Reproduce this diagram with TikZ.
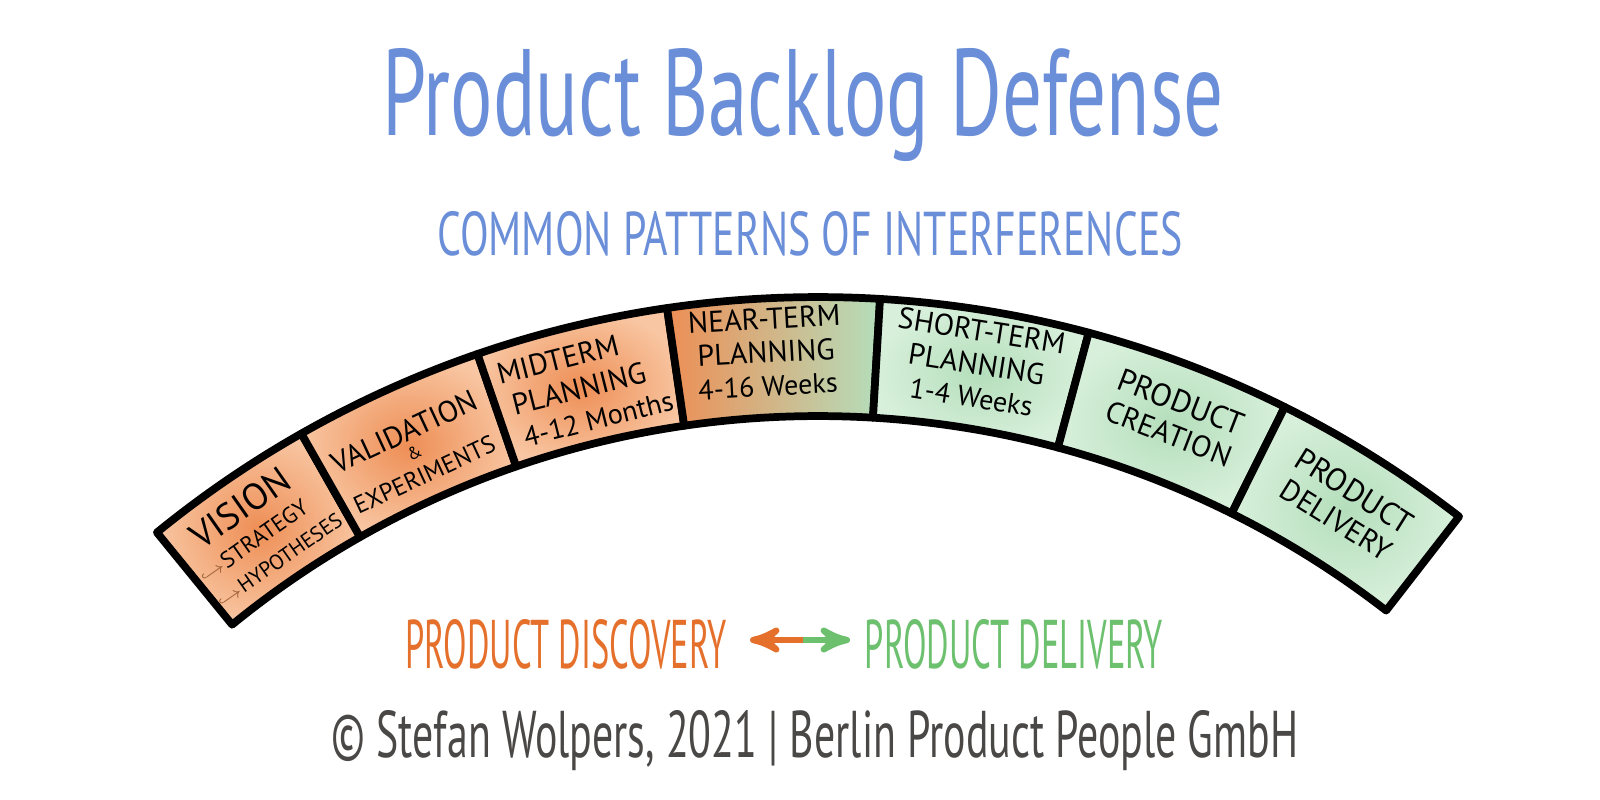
\documentclass[tikz,border=0pt]{standalone}
\usepackage{fontspec}
\setmainfont{PT Sans}
\usetikzlibrary{arrows,positioning}
\definecolor{titleblue}{HTML}{6A8ED8}
\definecolor{discorange}{HTML}{E5702C}
\definecolor{delivgreen}{HTML}{6CC06E}
\definecolor{signgray}{HTML}{4A4846}
\definecolor{orangedeep}{HTML}{EE8E55}
\definecolor{orangepale}{HTML}{F8C6A2}
\definecolor{greendeep}{HTML}{B4DEBB}
\definecolor{greenpale}{HTML}{D8F0DB}
\definecolor{hookbrown}{HTML}{A0623A}
\newcommand{\hookdown}{\textcolor{hookbrown}{\fontsize{5}{5}\selectfont$\hookrightarrow$}}
\tikzset{
  >=stealth',
  band/.style={draw=black, line width=2.2pt, line join=round},
  seglabel/.style={align=center, font=\fontsize{8.5}{9.5}\selectfont, inner sep=0pt},
  phase/.style={anchor=base, inner sep=0pt},
}

\begin{document}
\begin{tikzpicture}[x=0.01cm, y=-0.01cm]
  \useasboundingbox (0,0) rectangle (1600,800);

  % heading
  \node[phase, text=titleblue] (title) at (803,135)
    {\resizebox{8.41cm}{0.87cm}{Product Backlog Defense}};
  \node[phase, text=titleblue] (subtitle) at (810,255)
    {\resizebox{7.45cm}{0.44cm}{COMMON PATTERNS OF INTERFERENCES}};

  % the arc of backlog stages
  \begin{scope}[shift={(818,1343)}]
    \foreach \a/\b in {-129.2/-119.6, -119.6/-109.0, -109.0/-98.3}
      \path[band, inner color=orangedeep, outer color=orangepale]
        (\a:1046) arc[start angle=\a, end angle=\b, radius=1046]
        -- (\b:927) arc[start angle=\b, end angle=\a, radius=927] -- cycle;
    \path[band, left color=orangedeep, middle color=orangepale!60!greenpale,
        right color=greendeep]
      (-98.3:1046) arc[start angle=-98.3, end angle=-86.6, radius=1046]
      -- (-86.6:927) arc[start angle=-86.6, end angle=-98.3, radius=927] -- cycle;
    \foreach \a/\b in {-86.6/-75.0, -75.0/-63.5, -63.5/-52.2}
      \path[band, inner color=greendeep, outer color=greenpale]
        (\a:1046) arc[start angle=\a, end angle=\b, radius=1046]
        -- (\b:927) arc[start angle=\b, end angle=\a, radius=927] -- cycle;

    \node[seglabel, align=left, rotate=35] (vision) at (-124.6:986)
      {\hspace{5pt}{\fontsize{10.5}{11}\selectfont VISION}\\[-1pt]
       \hookdown{\fontsize{6.5}{7}\selectfont STRATEGY}\\[-1pt]
       \hookdown{\fontsize{6}{7}\selectfont HYPOTHESES}};
    \node[seglabel, rotate=25] (validation) at (-114.4:978)
      {{\fontsize{8.5}{8}\selectfont VALIDATION}\\[-4pt]
       {\fontsize{5}{5}\selectfont\&}\\[-2pt]
       {\fontsize{7}{7}\selectfont EXPERIMENTS}};
    \node[seglabel, align=left, rotate=14.2] (midterm) at (-103.7:984)
      {MIDTERM\\\hspace{2pt}PLANNING\\\hspace{3pt}{\fontsize{8}{9.5}\selectfont 4-12 Months}};
    \node[seglabel, rotate=3.2] (nearterm) at (-93.0:992)
      {NEAR-TERM\\PLANNING\\{\fontsize{8}{9.5}\selectfont 4-16 Weeks}};
    \node[seglabel, rotate=-9] (shortterm) at (-80.8:992)
      {SHORT-TERM\\PLANNING\\{\fontsize{8}{9.5}\selectfont 1-4 Weeks}};
    \node[seglabel, rotate=-21.1] (creation) at (-68.9:992)
      {{\fontsize{9}{11}\selectfont PRODUCT}\\CREATION};
    \node[seglabel, rotate=-32] (delivstage) at (-57.8:990)
      {{\fontsize{9}{11}\selectfont PRODUCT}\\DELIVERY};
  \end{scope}

  % discovery versus delivery
  \node[phase, text=discorange] (discovery) at (566,668)
    {\resizebox{3.21cm}{0.49cm}{PRODUCT DISCOVERY}};
  \node[phase, text=delivgreen] (delivery) at (1014,668)
    {\resizebox{2.98cm}{0.49cm}{PRODUCT DELIVERY}};
  \coordinate (split) at (803,640);
  \coordinate (discend) at (750,640);
  \coordinate (delivend) at (850,640);
  \draw[->, line width=1.8pt, discorange] (split) -- (discend);
  \draw[->, line width=1.8pt, delivgreen] (split) -- (delivend);

  % credit line
  \node[phase, text=signgray] (credit) at (815,757)
    {\resizebox{9.66cm}{0.47cm}{© Stefan Wolpers, 2021 | Berlin Product People GmbH}};
\end{tikzpicture}
\end{document}
